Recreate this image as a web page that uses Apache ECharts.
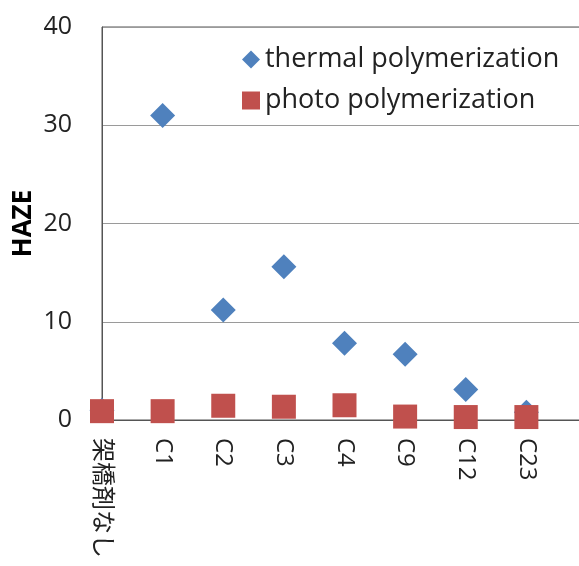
<!DOCTYPE html>
<html>
<head>
<meta charset="utf-8">
<script src="https://cdn.jsdelivr.net/npm/echarts@6/dist/echarts.min.js"></script>
<style>
html,body{margin:0;padding:0;background:#fff;}
#chart{width:579px;height:566px;}
</style>
</head>
<body>
<div id="chart"></div>
<script>
const categories = ['架橋剤なし', 'C1', 'C2', 'C3', 'C4', 'C9', 'C12', 'C23'];
const thermalValues = [1.0, 31.0, 11.2, 15.6, 7.8, 6.7, 3.1, 0.8];
const photoValues = [0.9, 0.9, 1.45, 1.35, 1.5, 0.35, 0.3, 0.3];
const seriesNames = ['thermal polymerization', 'photo polymerization'];
const yTicks = [0, 10, 20, 30, 40];

const FONT = '"Open Sans", "Noto Sans CJK JP", sans-serif';
const chart = echarts.init(document.getElementById('chart'), null, {renderer: 'canvas'});
chart.setOption({
  animation: false,
  backgroundColor: '#fff',
  textStyle: {fontFamily: FONT},
  grid: {left: 102, top: 27, width: 485, bottom: 146, show: true, borderColor: '#555', borderWidth: 1,
         outerBoundsMode: 'none', containLabel: false},
  legend: {
    orient: 'vertical',
    left: 237,
    top: 41,
    itemGap: 14,
    itemWidth: 18,
    itemHeight: 18,
    textStyle: {fontFamily: FONT, fontSize: 27, color: '#222'},
    data: [{name: seriesNames[0], icon: 'diamond'}, {name: seriesNames[1], icon: 'rect'}]
  },
  xAxis: {
    type: 'category',
    data: categories,
    boundaryGap: false,
    max: categories.length,
    axisLine: {lineStyle: {color: '#555', width: 1}},
    axisTick: {show: false},
    splitLine: {show: false},
    axisLabel: {rotate: -90, margin: 18, fontSize: 24, color: '#222', fontFamily: FONT, interval: 0}
  },
  yAxis: {
    type: 'value',
    min: yTicks[0],
    max: yTicks[yTicks.length - 1],
    interval: 10,
    name: 'HAZE',
    nameLocation: 'middle',
    nameGap: 65,
    nameMoveOverlap: false,
    nameTextStyle: {fontSize: 26, fontWeight: 'bold', color: '#000', fontFamily: FONT},
    axisLine: {show: true, lineStyle: {color: '#555', width: 1}},
    axisTick: {show: false},
    axisLabel: {fontSize: 25, color: '#222', margin: 30, fontFamily: FONT},
    splitLine: {lineStyle: {color: '#9a9a9a', width: 1}}
  },
  series: [
    {
      name: seriesNames[0],
      type: 'scatter',
      symbol: 'diamond',
      symbolSize: 25,
      itemStyle: {color: '#4f81bd', opacity: 1},
      data: thermalValues
    },
    {
      name: seriesNames[1],
      type: 'scatter',
      symbol: 'rect',
      symbolSize: 24,
      itemStyle: {color: '#c0504d', opacity: 1},
      data: photoValues
    }
  ]
});
</script>
</body>
</html>
